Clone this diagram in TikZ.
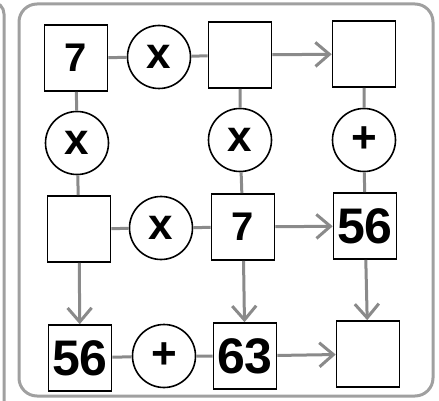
\documentclass[tikz,border=0pt]{standalone}
\usepackage{fontspec}
\setmainfont{Liberation Sans}
\usetikzlibrary{arrows.meta,calc,positioning}
\definecolor{linkgray}{HTML}{8A8A8A}
\definecolor{framegray}{HTML}{A0A0A0}
\tikzset {
  >={Straight Barb[length=14pt,width=24pt]},
  every node/.style={font=\bfseries},
  box/.style={draw,line width=1.6pt,minimum width=63pt,minimum height=66pt,inner sep=0pt},
  op/.style={draw,circle,line width=1.6pt,minimum size=63pt,inner sep=0pt},
  link/.style={draw=linkgray,line width=3pt},
  flow/.style={link,->},
  small/.style={font=\bfseries\fontsize{40}{40}\selectfont},
  big/.style={font=\bfseries\fontsize{50}{50}\selectfont},
  sign/.style={font=\bfseries\fontsize{44}{44}\selectfont},
}
\begin{document}
\begin{tikzpicture}[x=1pt,y=-1pt]
          \useasboundingbox (0,0) rectangle (439,401);
          \draw[framegray,line width=3pt] (4,402) -- (4,14) arc[start angle=0,end angle=90,radius=12pt];
          \draw[framegray,line width=3pt,rounded corners=18pt] (19,4) rectangle (433,396);

          \node[box,small] (a1) at (76,58) {7};
          \node[op,sign] (m1) at (159,57) {x};
          \node[box] (b1) at (240,55) {};
          \node[box] (c1) at (364,54) {};

          \node[op,sign] (m2) at (77,143) {x};
          \node[op,sign] (m3) at (240,140) {x};
          \node[op,sign] (p1) at (364,140) {+};

          \node[box] (a2) at (79,229) {};
          \node[op,sign] (m4) at (161,228) {x};
          \node[box,small] (b2) at (243,227) {7};
          \node[box,big] (c2) at (365,226) {56};

          \node[box,big] (a3) at (80,358) {56};
          \node[op,sign] (p2) at (164,356) {+};
          \node[box,big] (b3) at (245,356) {63};
          \node[box] (c3) at (368,354) {};

          \draw[link] (a1) -- (m1) -- (b1);
          \draw[link] (a1) -- (m2) -- (a2);
          \draw[link] (b1) -- (m3) -- (b2);
          \draw[link] (c1) -- (p1) -- (c2);
          \draw[link] (a2) -- (m4) -- (b2);
          \draw[link] (a3) -- (p2) -- (b3);

          \draw[flow] (b1) -- (c1);
          \draw[flow] (b2) -- (c2);
          \draw[flow] (b3) -- (c3);
          \draw[flow] (a2) -- (a3);
          \draw[flow] (b2) -- (b3);
          \draw[flow] (c2) -- (c3);
        \end{tikzpicture}
\end{document}
